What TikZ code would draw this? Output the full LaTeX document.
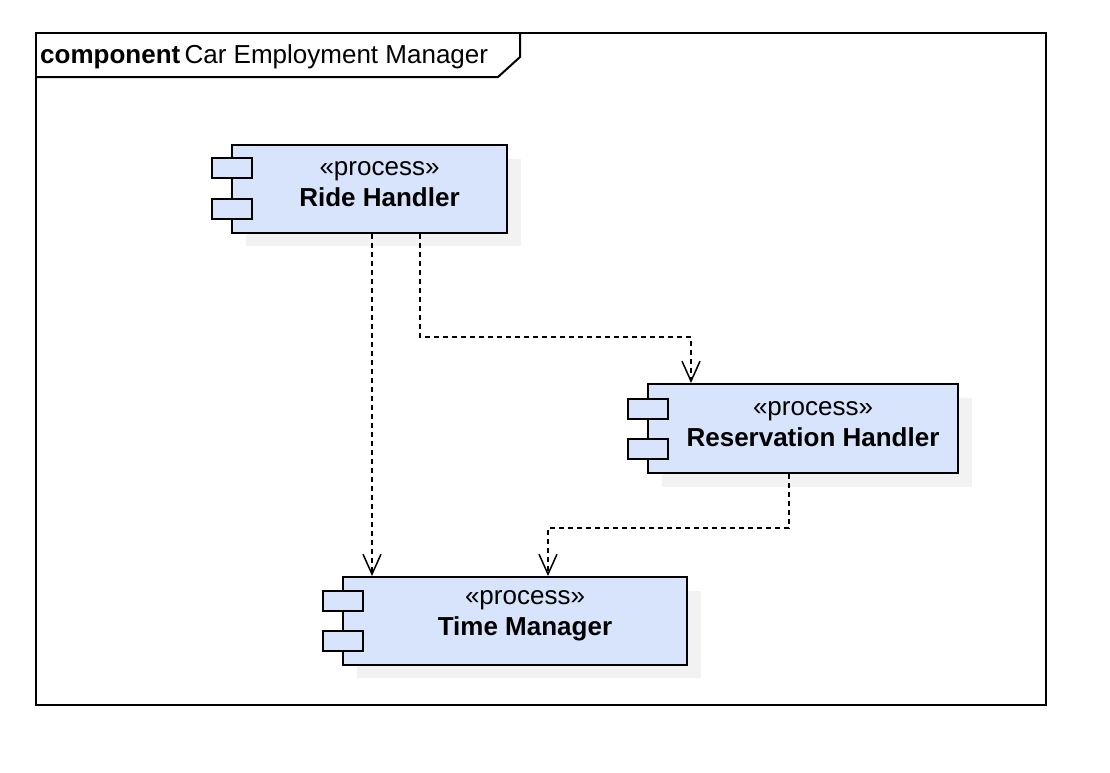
\documentclass[tikz,border=0pt]{standalone}
\usepackage{fontspec}
\setmainfont{Liberation Sans}
\usetikzlibrary{arrows.meta,calc}
\definecolor{compfill}{RGB}{216,228,252}
\definecolor{shadowc}{RGB}{242,242,242}
\tikzset{
  comp/.style={draw=black, line width=2pt, fill=compfill, inner sep=0pt},
  port/.style={draw=black, line width=2pt, fill=compfill, minimum width=40pt, minimum height=20pt, inner sep=0pt},
  shade/.style={fill=shadowc},
  lbl/.style={align=center, font=\fontsize{26}{31}\selectfont, inner sep=0pt},
  dep/.style={draw=black, line width=1.5pt, dash pattern=on 5pt off 4pt, -{Straight Barb[length=20pt,width=18pt,line width=1.5pt]}},
}
\begin{document}
\begin{tikzpicture}[x=1pt,y=-1pt]
\useasboundingbox[fill=white] (0,0) rectangle (1110,772);
% frame
\node[draw=black, line width=2pt, minimum width=1010pt, minimum height=672pt, inner sep=0pt] (frame) at (541,369) {};
\draw[line width=2pt] (36,77) -- (498,77) -- (520,57) -- (520,33);
\node[anchor=base west, inner sep=0pt, font=\fontsize{26}{31}\selectfont] (title) at (40,63) {\textbf{component}\,Car Employment Manager};
% shadows
\fill[shade] (246,159) rectangle (521,246);
\fill[shade] (662,398) rectangle (972,487);
\fill[shade] (357,591) rectangle (701,678);
% Ride Handler
\node[comp, minimum width=275pt, minimum height=88pt] (rh) at (369.5,189) {};
\node[port] (rhp1) at (232,168) {};
\node[port] (rhp2) at (232,209) {};
\node[lbl] (rht) at (379.5,184) {«process»\\\textbf{Ride Handler}};
% Reservation Handler
\node[comp, minimum width=310pt, minimum height=89pt] (rs) at (803,428.5) {};
\node[port] (rsp1) at (648,408.5) {};
\node[port] (rsp2) at (648,449) {};
\node[lbl] (rst) at (813,424) {«process»\\\textbf{Reservation Handler}};
% Time Manager
\node[comp, minimum width=344pt, minimum height=88pt] (tm) at (515,621) {};
\node[port] (tmp1) at (343,601) {};
\node[port] (tmp2) at (343,641) {};
\node[lbl] (tmt) at (525,616) {«process»\\\textbf{Time Manager}};
% dependencies
\draw[dep] (rh.south -| 372,0) -- (tm.north -| 372,0);
\draw[dep] (rh.south -| 420,0) -- (420,337) -- (691,337) -- (rs.north -| 691,0);
\draw[dep] (rs.south -| 789,0) -- (789,528) -- (548,528) -- (tm.north -| 548,0);
\end{tikzpicture}
\end{document}
